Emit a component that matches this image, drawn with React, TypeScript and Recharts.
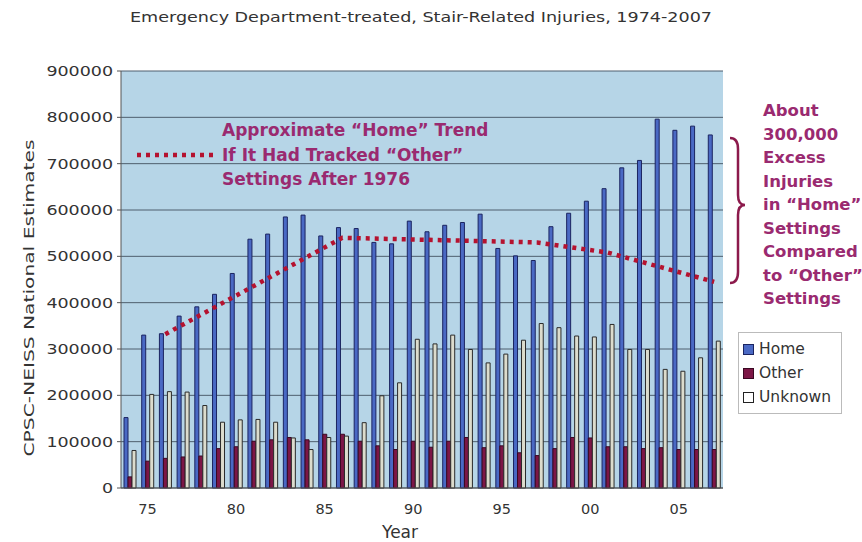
import React from 'react';
import { ComposedChart, Bar, Line, XAxis, YAxis, CartesianGrid, Legend } from 'recharts';

const years = [1974,1975,1976,1977,1978,1979,1980,1981,1982,1983,1984,1985,1986,1987,1988,1989,1990,1991,1992,1993,1994,1995,1996,1997,1998,1999,2000,2001,2002,2003,2004,2005,2006,2007];
const home = [152000,330000,333000,371000,391000,418000,463000,537000,548000,585000,589000,544000,562000,560000,530000,527000,576000,553000,567000,573000,591000,517000,501000,491000,564000,593000,619000,646000,691000,707000,796000,772000,781000,762000];
const other = [24000,58000,64000,67000,69000,85000,89000,101000,104000,109000,104000,116000,116000,101000,91000,83000,101000,88000,101000,109000,87000,91000,76000,70000,85000,109000,108000,89000,89000,85000,87000,83000,83000,83000];
const unknown = [81000,202000,208000,207000,178000,142000,147000,148000,142000,108000,83000,109000,112000,141000,199000,227000,321000,311000,330000,299000,270000,289000,319000,355000,346000,328000,326000,353000,299000,299000,256000,252000,281000,317000];
const trendYears = [1976, 1986, 1997, 2001, 2007];
const trendValues = [332000, 540000, 530000, 508000, 445000];
const yTicks = [0,100000,200000,300000,400000,500000,600000,700000,800000,900000];

const title = 'Emergency Department-treated, Stair-Related Injuries, 1974-2007';
const yLabel = 'CPSC-NEISS National Estimates';
const xLabel = 'Year';
const trendNote = ['Approximate \u201CHome\u201D Trend', 'If It Had Tracked \u201COther\u201D', 'Settings After 1976'];
const excessNote = ['About', '300,000', 'Excess', 'Injuries', 'in \u201CHome\u201D', 'Settings', 'Compared', 'to \u201COther\u201D', 'Settings'];

const series = [
  { key: 'Home', fill: '#4a69c4', stroke: '#1b2460' },
  { key: 'Other', fill: '#7c1646', stroke: '#3a0822' },
  { key: 'Unknown', fill: '#dcdccd', stroke: '#2a2a2a' },
];

const data = years.map((y, i) => {
  const ti = trendYears.indexOf(y);
  return {
    year: y,
    Home: home[i],
    Other: other[i],
    Unknown: unknown[i],
    trend: ti >= 0 ? trendValues[ti] : null,
  };
});

const TEXT = '#333333';
const NOTE = '#9a2a70';
const TREND = '#b5122f';

const YTick = (props: any) => {
  const { x, y, payload } = props;
  const s = String(payload.value);
  return (
    <text x={x} y={y} dy={5} textAnchor="end" fontSize={14} fill={TEXT} textLength={s.length * 11.1} lengthAdjust="spacingAndGlyphs">
      {s}
    </text>
  );
};

const XTick = (props: any) => {
  const { x, y, payload } = props;
  const yr = Number(payload.value);
  if (yr % 5 !== 0) return <g />;
  return (
    <text x={x} y={y} dy={11} textAnchor="middle" fontSize={14.5} fill={TEXT}>
      {String(yr).slice(2)}
    </text>
  );
};

const LegendBox = () => (
  <div style={{ border: '1px solid #bbbbbb', background: '#ffffff', padding: '4px 2px 4px 2px', boxSizing: 'border-box', width: 104 }}>
    {series.map((s) => (
      <div key={s.key} style={{ display: 'flex', alignItems: 'center', height: 24, fontSize: 15.5, color: TEXT, fontFamily: 'DejaVu Sans' }}>
        <span style={{ display: 'inline-block', width: 9, height: 9, background: s.key === 'Unknown' ? '#ffffff' : s.fill, border: `1.5px solid ${s.key === 'Home' ? '#1b2460' : s.key === 'Other' ? '#3a0822' : '#222'}`, marginRight: 5, marginLeft: 2 }} />
        <span>{s.key}</span>
      </div>
    ))}
  </div>
);

export default function App() {
  return (
    <div style={{ position: 'absolute', left: 0, top: 0, width: 862, height: 542, background: '#ffffff', fontFamily: 'DejaVu Sans' }}>
      <ComposedChart
        width={862}
        height={542}
        data={data}
        margin={{ top: 71, right: 139, bottom: 24, left: 40 }}
        barCategoryGap={3}
        barGap={0}
      >
        <CartesianGrid vertical={false} horizontal={true} stroke="#4e5e6e" strokeWidth={1} fill="#b6d5e7" fillOpacity={1} />
        <XAxis
          dataKey="year"
          interval={0}
          height={30}
          tickLine={false}
          tickSize={5}
          tickMargin={10}
          axisLine={{ stroke: '#555555' }}
          tick={<XTick />}
        />
        <YAxis
          width={81}
          domain={[0, 900000]}
          ticks={yTicks}
          interval={0}
          tickSize={4}
          tickMargin={4}
          tickLine={{ stroke: '#555555' }}
          axisLine={{ stroke: '#555555' }}
          tick={<YTick />}
        />
        <YAxis yAxisId="right" orientation="right" width={0} domain={[0, 900000]} tick={false} tickLine={false} axisLine={{ stroke: '#7d8c9a' }} />
        {series.map((s) => (
          <Bar key={s.key} dataKey={s.key} fill={s.fill} stroke={s.stroke} strokeWidth={1} isAnimationActive={false} />
        ))}
        <Line
          dataKey="trend"
          type="linear"
          stroke={TREND}
          strokeWidth={4.5}
          strokeDasharray="4 5"
          dot={false}
          activeDot={false}
          connectNulls
          isAnimationActive={false}
          legendType="none"
        />
        <Legend
          layout="vertical"
          align="center"
          verticalAlign="middle"
          content={<LegendBox />}
          wrapperStyle={{ left: 738, top: 332, width: 104, height: 78 }}
        />
      </ComposedChart>
      <svg width={862} height={542} style={{ position: 'absolute', left: 0, top: 0, pointerEvents: 'none' }}>
        <text x={421} y={22} textAnchor="middle" fontSize={13.5} fill={TEXT} textLength={582} lengthAdjust="spacingAndGlyphs">
          {title}
        </text>
        <text x={0} y={0} transform="translate(34,298) rotate(-90)" textAnchor="middle" fontSize={14.5} fill={TEXT} textLength={317} lengthAdjust="spacingAndGlyphs">
          {yLabel}
        </text>
        <text x={400} y={538} textAnchor="middle" fontSize={17} fill={TEXT}>
          {xLabel}
        </text>
        <line x1={137} y1={155} x2={214} y2={155} stroke={TREND} strokeWidth={4.5} strokeDasharray="4 5" />
        {trendNote.map((t, i) => (
          <text key={i} x={222} y={136 + i * 24.5} fontSize={17} fontWeight="bold" fill={NOTE}>
            {t}
          </text>
        ))}
        {excessNote.map((t, i) => (
          <text key={i} x={763} y={116 + i * 23.5} fontSize={16.5} fontWeight="bold" fill={NOTE}>
            {t}
          </text>
        ))}
        <path d="M 730 138 Q 738 138 738 149 L 738 195 Q 738 205 745 205 Q 738 205 738 215 L 738 272 Q 738 283 730 283" fill="none" stroke="#8c1a4c" strokeWidth={2.5} />
      </svg>
    </div>
  );
}
